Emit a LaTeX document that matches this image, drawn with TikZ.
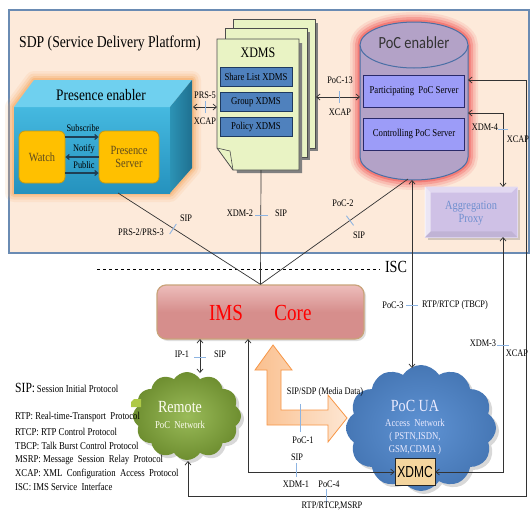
\documentclass[tikz,border=0pt]{standalone}
\usepackage{fontspec}
\setmainfont{Liberation Serif}[FakeStretch=0.83]
\newfontfamily\xsans{Liberation Sans}[FakeStretch=0.75]
\newfontfamily\csans{Carlito}[FakeStretch=0.85]
\usetikzlibrary{arrows.meta,shapes.symbols,shadows}
\definecolor{sdpf}{HTML}{FDEADA}
\definecolor{sdpb}{HTML}{6A8BB3}
\definecolor{pfront1}{HTML}{45B9E0}
\definecolor{pfront2}{HTML}{2592BE}
\definecolor{ptop}{HTML}{6FD0EF}
\definecolor{pside1}{HTML}{2C93B5}
\definecolor{pside2}{HTML}{1F7090}
\definecolor{glowo}{HTML}{F6A860}
\definecolor{yfill}{HTML}{FFC000}
\definecolor{ybord}{HTML}{C99A10}
\definecolor{ytext}{HTML}{5F4B1E}
\definecolor{parrc}{HTML}{1F3F55}
\definecolor{pagef}{HTML}{E9F3C4}
\definecolor{pageb}{HTML}{4D4D4D}
\definecolor{xboxf}{HTML}{4F81BD}
\definecolor{xboxb}{HTML}{1F3A60}
\definecolor{cylf}{HTML}{B3A2C7}
\definecolor{cylb}{HTML}{4A6FA5}
\definecolor{glowr}{HTML}{F05050}
\definecolor{pboxf}{HTML}{9C9CF8}
\definecolor{pboxb}{HTML}{2A2A6A}
\definecolor{apf}{HTML}{CFC1E6}
\definecolor{apin}{HTML}{E2D9F1}
\definecolor{aptext}{HTML}{6F8FCF}
\definecolor{imsf}{HTML}{D68E8C}
\definecolor{imstop}{HTML}{EDBDBB}
\definecolor{imsb}{HTML}{C9A37A}
\definecolor{remi}{HTML}{9ABB59}
\definecolor{remo}{HTML}{6E8E30}
\definecolor{uai}{HTML}{5F93D4}
\definecolor{uao}{HTML}{4677B5}
\definecolor{xdmcf}{HTML}{F4D59E}
\definecolor{orf}{HTML}{FAC08F}
\definecolor{orl}{HTML}{FDE6D2}
\definecolor{orb}{HTML}{F79646}
\definecolor{tickc}{HTML}{8DB4E2}
\begin{document}
\begin{tikzpicture}[x=1pt,y=-1pt,
 lbl/.style={font=\fontsize{10}{11}\selectfont, inner sep=0pt},
 leg/.style={font=\fontsize{10.5}{12}\selectfont, inner sep=0pt, anchor=west},
 tk/.style={draw=tickc, line width=0.9pt},
 conn/.style={draw=black!80, line width=0.7pt},
 arr/.style={conn, -{Straight Barb[length=3.5pt,width=6pt]}},
 darr/.style={conn, {Straight Barb[length=3.5pt,width=6pt]}-{Straight Barb[length=3.5pt,width=6pt]}},
 parr/.style={draw=parrc, line width=1.2pt, -{Straight Barb[length=3pt,width=5pt]}},
 ybox/.style={draw=ybord, fill=yfill, rounded corners=6pt, line width=0.8pt, font=\fontsize{12.5}{13}\selectfont, text=ytext, align=center, inner sep=0pt},
 xbox/.style={draw=xboxb, fill=xboxf, line width=0.8pt, minimum width=72pt, minimum height=19pt, inner sep=0pt, font=\fontsize{10.5}{11}\selectfont},
 pbox/.style={draw=pboxb, fill=pboxf, line width=0.8pt, minimum width=101pt, minimum height=32pt, inner sep=0pt, font=\fontsize{10.5}{11}\selectfont},
 page/.style={draw=pageb, fill=pagef, line width=0.8pt},
 pshadow/.style={fill=black!50},
]
\useasboundingbox (0,0) rectangle (530,512);
\fill[white] (0,0) rectangle (530,512);

% ---------- SDP region
\fill[sdpf] (9,10) rectangle (529,253);
\draw[sdpb, line width=1.2pt] (9,10) rectangle (529,253);
\node[font=\fontsize{16.5}{18}\selectfont, anchor=west, inner sep=0pt] (sdp) at (19,43) {SDP (Service Delivery Platform)};

% ---------- Presence enabler (3D box)
\foreach \gw/\go in {18/0.12, 13/0.18, 8/0.28, 4/0.4}
  \draw[glowo, line width=\gw pt, opacity=\go, line join=round]
    (14,107) -- (34,80) -- (192,80) -- (192,168) -- (170,193) -- (14,193) -- cycle;
\shade[top color=pfront1, bottom color=pfront2] (14,107) rectangle (170,193);
\fill[ptop] (14,107) -- (34,80) -- (192,80) -- (170,107) -- cycle;
\shade[left color=pside1, right color=pside2] (170,107) -- (192,80) -- (192,168) -- (170,193) -- cycle;
\node[font=\fontsize{16}{17}\selectfont, inner sep=0pt] (pe) at (101,95) {Presence enabler};
\node[ybox, minimum width=46pt, minimum height=52pt] (watch) at (42,157) {Watch};
\node[ybox, minimum width=60pt, minimum height=52pt] (ps) at (129,157) {Presence\\Server};
\draw[parr] ([yshift=20pt]watch.east) -- ([yshift=20pt]ps.west);
\draw[parr] (ps.west) -- (watch.east);
\draw[parr] ([yshift=-16pt]watch.east) -- ([yshift=-16pt]ps.west);
\node[lbl] (lsub) at (83,128) {Subscribe};
\node[lbl] (lnot) at (84,149) {Notify};
\node[lbl] (lpub) at (84,165) {Public};

% ---------- XDMS (multi document)
\fill[pshadow] (237,23) rectangle (318,151);
\draw[page] (233,19) rectangle (315,148);
\fill[pshadow] (229,32) rectangle (310,160);
\draw[page] (225,28) rectangle (307,157);
\fill[pshadow] (221,43) -- (302,43) -- (302,173) -- (237,173) -- cycle;
\draw[page] (217,39) -- (299,39) -- (299,170) -- (233,170) -- (217,148) -- cycle;
\draw[pageb, line width=0.6pt] (217,148) -- (230,151) -- (233,170);
\node[font=\fontsize{14.5}{15}\selectfont, inner sep=0pt] (xdms) at (258,53) {XDMS};
\node[xbox] (sl) at (256,77) {Share List XDMS};
\node[xbox] (gx) at (256,102) {Group XDMS};
\node[xbox] (px) at (256,127) {Policy XDMS};

% ---------- PoC enabler (cylinder)
\foreach \gw/\go in {20/0.12, 15/0.18, 10/0.28, 5/0.45}
  \draw[glowr, line width=\gw pt, opacity=\go]
    (468,45) -- (468,157) arc[start angle=0, end angle=180, x radius=54, y radius=23]
    -- (360,45) arc[start angle=180, end angle=360, x radius=54, y radius=23] -- cycle;
\fill[cylf] (360,45) rectangle (468,157);
\fill[cylf] (414,157) ellipse [x radius=54, y radius=23];
\draw[cylb, line width=1pt] (468,45) -- (468,157) arc[start angle=0, end angle=180, x radius=54, y radius=23] -- (360,45);
\filldraw[fill=cylf, draw=cylb, line width=1pt] (414,45) ellipse [x radius=54, y radius=23];
\node[font=\csans\fontsize{17}{18}\selectfont, text=black!80, inner sep=0pt] (poc) at (414,43) {PoC enabler};
\node[pbox] (pps) at (414,91) {Participating\ \ PoC Server};
\node[pbox] (cps) at (414,134) {Controlling PoC Server};

% ---------- Aggregation proxy
\node[draw=apin, fill=apf, line width=0.8pt, minimum width=92pt, minimum height=50pt, inner sep=0pt,
      drop shadow={opacity=0.35, shadow xshift=3pt, shadow yshift=-3pt}] (ap) at (471,212) {};
\fill[apin] (ap.north west) -- (ap.north east) -- ([xshift=-6pt,yshift=-6pt]ap.north east) -- ([xshift=6pt,yshift=-6pt]ap.north west) -- cycle;
\fill[white, opacity=0.6] (ap.north west) -- ([xshift=6pt,yshift=-6pt]ap.north west) -- ([xshift=6pt,yshift=6pt]ap.south west) -- (ap.south west) -- cycle;
\fill[apf!80!black, opacity=0.35] (ap.south west) -- (ap.south east) -- ([xshift=-6pt,yshift=6pt]ap.south east) -- ([xshift=6pt,yshift=6pt]ap.south west) -- cycle;
\node[font=\fontsize{12.5}{13.5}\selectfont, text=aptext, align=center, inner sep=0pt] (aplbl) at (471,213) {Aggregation\\Proxy};

% ---------- ISC line
\draw[dashed, line width=0.8pt] (97,269) -- (380,269);
\node[font=\fontsize{17}{18}\selectfont, inner sep=0pt] (isc) at (396,267) {ISC};

% ---------- IMS Core
\node[draw=imsb, line width=1.2pt, top color=imstop, bottom color=imsf, middle color=imsf, rounded corners=9pt,
      minimum width=207pt, minimum height=54pt, drop shadow={opacity=0.25, shadow xshift=2pt, shadow yshift=-2pt}] (ims) at (260.5,312) {};
\node[font=\fontsize{23}{24}\selectfont, text=red, inner sep=0pt] (imsl) at (226,313) {IMS};
\node[font=\fontsize{23}{24}\selectfont, text=red, inner sep=0pt] (imsr) at (293,313) {Core};

% ---------- Orange bent arrow
\shade[left color=orf, right color=orl, draw=orb, line width=0.8pt, line join=miter]
  (273,345) -- (292,370) -- (281,370) -- (281,410) -- (328,410) -- (328,395) -- (347,418)
  -- (328,442) -- (328,425) -- (267,425) -- (267,370) -- (255,370) -- cycle;

% ---------- Clouds
\node[cloud, cloud puffs=12, cloud puff arc=115, aspect=1.25, minimum width=108pt, minimum height=88pt,
      inner color=remi, outer color=remo, draw=none,
      drop shadow={opacity=0.3, shadow xshift=3pt, shadow yshift=-3pt}] (rem) at (187,416) {};
\node[font=\fontsize{17}{18}\selectfont, text=white!95!yellow, inner sep=0pt] (reml) at (180,407) {Remote};
\node[font=\fontsize{10.5}{11}\selectfont, text=white!95!yellow, inner sep=0pt] (reml2) at (180,425) {PoC\ \ Network};
\fill[remi!80!yellow] (131,402) -- (134,399) -- (141,399) -- (141,407) -- (131,407) -- cycle;

\node[cloud, cloud puffs=12, cloud puff arc=115, aspect=1.2, minimum width=150pt, minimum height=126pt,
      inner color=uai, outer color=uao, draw=none,
      drop shadow={opacity=0.3, shadow xshift=3pt, shadow yshift=-3pt}] (ua) at (421,428) {};
\node[font=\fontsize{17}{18}\selectfont, text=white!92!blue, inner sep=0pt] (ual) at (415,406) {PoC UA};
\node[font=\fontsize{10.5}{13}\selectfont, text=white!92!blue, align=center, inner sep=0pt] (ual2) at (415,437) {Access\ \ Network\\( PSTN,ISDN,\\GSM,CDMA )};
\node[draw=black!85, fill=xdmcf, line width=0.8pt, minimum width=40pt, minimum height=27pt, inner sep=0pt,
      font=\xsans\fontsize{16}{16}\selectfont] (xdmc) at (415,472) {XDMC};

% ---------- named connector points
\coordinate (peb) at (118,193);
\coordinate (xdb) at (261,170);
\coordinate (pocb2) at (408,179);
\coordinate (pocb) at (412,180);
\coordinate (uat) at (412,368);
\coordinate (per) at (193,107);
\coordinate (xdl) at (217,107);
\coordinate (xdr) at (316,97);
\coordinate (pocl) at (360,97);
\coordinate (pocr1) at (468,80);
\coordinate (pocr2) at (468,113);
\coordinate (apt) at (503,187);
\coordinate (apb) at (503,237);
\coordinate (imsb1) at (248,339);
\coordinate (imsb2) at (200,339);
\coordinate (remt) at (200,373);
\coordinate (remb) at (188,461);
\coordinate (outc) at (526,496);

% ---------- connectors
\draw[conn] (ims.north) -- (peb);
\draw[conn] (ims.north) -- (xdb);
\draw[conn] (ims.north) -- (pocb2);
\draw[darr] (per) -- (xdl);
\draw[darr] (xdr) -- (pocl);
\draw[darr] (pocb) -- (uat);
\draw[darr] (pocr2) -| (apt);
\draw[darr] (xdmc.east) -| (apb);
\draw[darr] (xdmc.west) -| (imsb1);
\draw[darr] (imsb2) -- (remt);
\draw[darr] (remb) |- (outc) |- (pocr1);

% ---------- ticks
\draw[tk] (205,101) -- (205,113);
\draw[tk] (339,91) -- (339,103);
\draw[tk] (169.7,234) -- (176.3,224);
\draw[tk] (255,215) -- (268,215);
\draw[tk] (346.4,215.8) -- (353.6,225.4);
\draw[tk] (406,305) -- (418,305);
\draw[tk] (498,129) -- (508,129);
\draw[tk] (497,345) -- (509,345);
\draw[tk] (194,357) -- (206,357);
\draw[tk] (300,404) -- (300,432);
\draw[tk] (296,463) -- (296,477);
\draw[tk] (326,489) -- (326,503);

% ---------- labels
\node[lbl] (l1) at (205,95) {PRS-5};
\node[lbl] (l2) at (205,121) {XCAP};
\node[lbl] (l3) at (340,80) {PoC-13};
\node[lbl] (l4) at (340,112) {XCAP};
\node[lbl] (l5) at (186,218) {SIP};
\node[lbl] (l6) at (141,232) {PRS-2/PRS-3};
\node[lbl] (l7) at (240,213) {XDM-2};
\node[lbl] (l8) at (281,213) {SIP};
\node[lbl] (l9) at (343,203) {PoC-2};
\node[lbl] (l10) at (359,235) {SIP};
\node[lbl] (l11) at (485,127) {XDM-4};
\node[lbl] (l12) at (518,139) {XCAP};
\node[lbl] (l13) at (393,305) {PoC-3};
\node[lbl] (l14) at (455,305) {RTP/RTCP (TBCP)};
\node[lbl] (l15) at (483,343) {XDM-3};
\node[lbl] (l16) at (517,353) {XCAP};
\node[lbl] (l17) at (182,354) {IP-1};
\node[lbl] (l18) at (220,354) {SIP};
\node[lbl] (l19) at (325,392) {SIP/SDP (Media Data)};
\node[lbl] (l20) at (303,440) {PoC-1};
\node[lbl] (l21) at (297,457) {SIP};
\node[lbl] (l22) at (296,484) {XDM-1};
\node[lbl] (l23) at (329,484) {PoC-4};
\node[lbl] (l24) at (332,506) {RTP/RTCP,MSRP};

% ---------- legend
\node[leg] (g0) at (15,388) {{\fontsize{14}{15}\selectfont SIP:}\,Session Initial Protocol};
\node[leg] (g1) at (15,417) {RTP: Real-time-Transport\ \ Protocol};
\node[leg] (g2) at (15,432) {RTCP: RTP Control Protocol};
\node[leg] (g3) at (15,446) {TBCP: Talk Burst Control Protocol};
\node[leg] (g4) at (15,460) {MSRP: Message\ \ Session\ \ Relay\ \ Protocol};
\node[leg] (g5) at (15,474) {XCAP: XML\ \ Configuration\ \ Access\ \ Protocol};
\node[leg] (g6) at (15,487) {ISC: IMS Service\ \ Interface};
\end{tikzpicture}
\end{document}
